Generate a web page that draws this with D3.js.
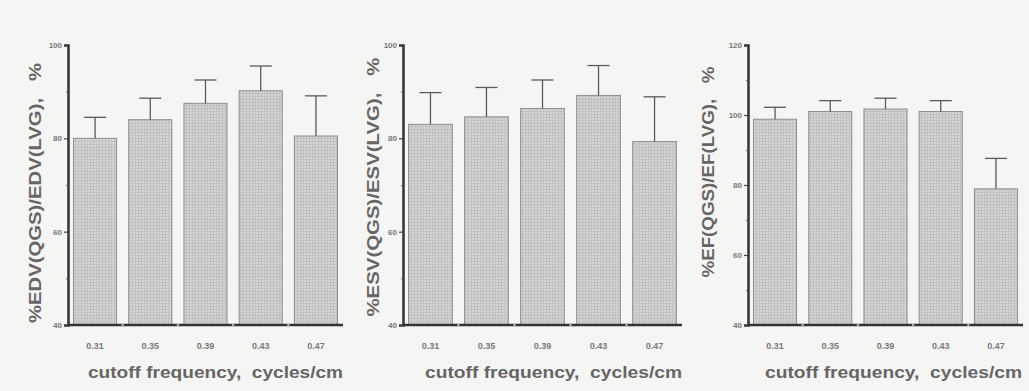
<!DOCTYPE html>
<html><head><meta charset="utf-8">
<script src="https://cdn.jsdelivr.net/npm/d3@7"></script>
<style>
html,body{margin:0;padding:0;background:#f5f5f4;}
svg{display:block;}
text{font-family:"Liberation Sans",Arial,sans-serif;white-space:pre;}
</style></head>
<body>
<svg id="chart" width="1029" height="391"></svg>
<script>
const categories = ["0.31","0.35","0.39","0.43","0.47"];
const edvMean = [80, 84, 87.5, 90.2, 80.5];
const edvSD   = [4.5, 4.6, 5.0, 5.3, 8.6];
const esvMean = [83, 84.6, 86.4, 89.2, 79.3];
const esvSD   = [6.8, 6.3, 6.1, 6.4, 9.6];
const efMean  = [98.8, 101, 101.7, 101, 78.9];
const efSD    = [3.4, 3.1, 3.1, 3.1, 8.7];
const yTicksA = [40, 60, 80, 100];
const yTicksB = [40, 60, 80, 100, 120];
const xTitle = "cutoff frequency,  cycles/cm";

const panels = [
  {mean: edvMean, sd: edvSD, domain:[40,100], ticks:yTicksA, minor:[50,70,90], title:"%EDV(QGS)/EDV(LVG),   %",
   x0:68, x1:343, ty:{x:35, y:193, len:260}, tx:{x:88, len:255}},
  {mean: esvMean, sd: esvSD, domain:[40,100], ticks:yTicksA, minor:[50,70,90], title:"%ESV(QGS)/ESV(LVG),   %",
   x0:403, x1:682, ty:{x:373, y:187, len:259}, tx:{x:425, len:257}},
  {mean: efMean, sd: efSD, domain:[40,120], ticks:yTicksB, minor:[50,70,90,110], title:"%EF(QGS)/EF(LVG),   %",
   x0:748, x1:1023, ty:{x:708, y:172, len:211}, tx:{x:765, len:257}}
];

const svg = d3.select("#chart");
const defs = svg.append("defs");
const pat = defs.append("pattern").attr("id","hatch").attr("patternUnits","userSpaceOnUse")
  .attr("width",3).attr("height",3);
pat.append("rect").attr("width",3).attr("height",3).attr("fill","#d4d4d4");
pat.append("path").attr("d","M0,0.5H3M0.5,0V3").attr("stroke","#c2c2c2").attr("stroke-width",1);

const yTop = 45, yBot = 325;

panels.forEach(p => {
  const g = svg.append("g");
  const x = d3.scaleBand().domain(categories).range([p.x0, p.x1]).paddingInner(0.22).paddingOuter(0.1);
  const y = d3.scaleLinear().domain(p.domain).range([yBot, yTop]);
  const data = categories.map((c,i)=>({c, m:p.mean[i], s:p.sd[i]}));

  g.selectAll("rect.bar").data(data).join("rect")
    .attr("x", d=>x(d.c)).attr("width", x.bandwidth())
    .attr("y", d=>y(d.m)).attr("height", d=>y(p.domain[0]) - y(d.m))
    .attr("fill","url(#hatch)").attr("stroke","#8e8e8e").attr("stroke-width",1);

  const capW = 22;
  g.selectAll("line.err").data(data).join("line")
    .attr("x1", d=>x(d.c)+x.bandwidth()/2).attr("x2", d=>x(d.c)+x.bandwidth()/2)
    .attr("y1", d=>y(d.m)).attr("y2", d=>y(d.m+d.s))
    .attr("stroke","#5a5a5a").attr("stroke-width",1.3);
  g.selectAll("line.cap").data(data).join("line")
    .attr("x1", d=>x(d.c)+x.bandwidth()/2-capW/2).attr("x2", d=>x(d.c)+x.bandwidth()/2+capW/2)
    .attr("y1", d=>y(d.m+d.s)).attr("y2", d=>y(d.m+d.s))
    .attr("stroke","#5a5a5a").attr("stroke-width",1.3);

  const yAxis = d3.axisLeft(y).tickValues(p.ticks).tickSize(4).tickPadding(2).tickFormat(d3.format("d"));
  const ya = g.append("g").attr("transform",`translate(${p.x0},0)`).call(yAxis);
  ya.select(".domain").attr("stroke","#333").attr("stroke-width",2.5);
  ya.selectAll(".tick line").attr("stroke","#444").attr("stroke-width",1.2);
  ya.selectAll(".tick text").attr("font-size",8).attr("font-weight","bold").attr("fill","#777");
  const ym = d3.axisLeft(y).tickValues(p.minor).tickSize(2).tickFormat("");
  const ymg = g.append("g").attr("transform",`translate(${p.x0},0)`).call(ym);
  ymg.select(".domain").remove();
  ymg.selectAll(".tick line").attr("stroke","#666");

  const xAxis = d3.axisBottom(x).tickSize(0).tickPadding(18);
  const xa = g.append("g").attr("transform",`translate(0,${yBot})`).call(xAxis);
  xa.select(".domain").attr("d",`M${p.x0},0H${p.x1}`).attr("stroke","#333").attr("stroke-width",2.5);
  xa.selectAll(".tick text").attr("font-size",9).attr("font-weight","bold").attr("fill","#7a7a7a");
  const bounds = categories.slice(1).map(c => x(c) - x.step()*x.paddingInner()/2);
  g.selectAll("line.bnd").data(bounds).join("line")
    .attr("x1",d=>d).attr("x2",d=>d).attr("y1",yBot-1).attr("y2",yBot+2)
    .attr("stroke","#bbb").attr("stroke-width",2);

  g.append("text").attr("x", p.tx.x).attr("y", 378)
    .attr("font-size",17).attr("font-weight","bold").attr("fill","#666")
    .attr("textLength", p.tx.len).attr("lengthAdjust","spacingAndGlyphs")
    .text(xTitle);
  g.append("text").attr("transform",`translate(${p.ty.x},${p.ty.y}) rotate(-90)`)
    .attr("text-anchor","middle").attr("dy","0.35em")
    .attr("font-size",16).attr("font-weight","bold").attr("fill","#666")
    .attr("textLength", p.ty.len).attr("lengthAdjust","spacingAndGlyphs")
    .text(p.title);
});
</script>
</body></html>
